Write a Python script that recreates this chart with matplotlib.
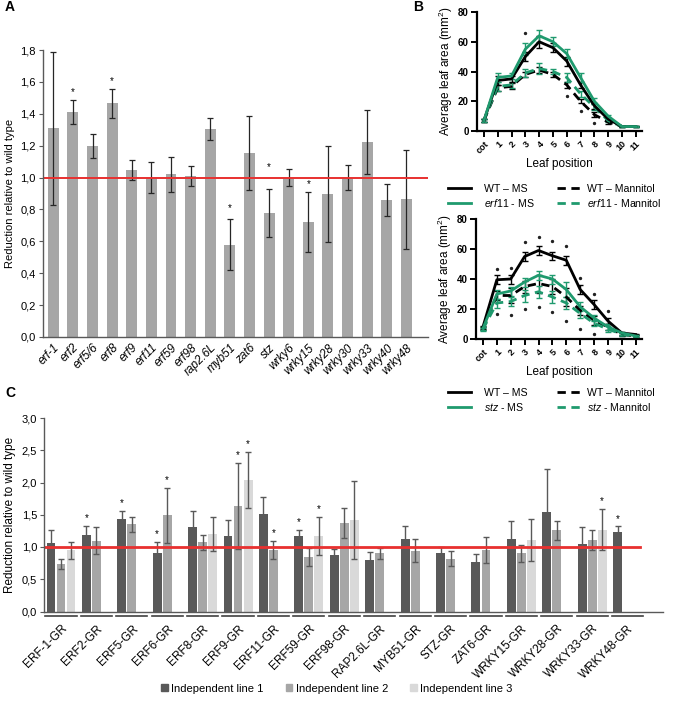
import numpy as np
import matplotlib
matplotlib.use("Agg")
import matplotlib.pyplot as plt
from matplotlib.lines import Line2D
from matplotlib.patches import Patch

plt.rcParams['font.family'] = ['Liberation Sans', 'DejaVu Sans']
plt.rcParams['mathtext.fontset'] = 'custom'
plt.rcParams['mathtext.rm'] = 'Liberation Sans'
plt.rcParams['mathtext.it'] = 'Liberation Sans:italic'

W, H = 674, 701
RED = '#e8302f'
GREEN = '#1f9a6e'

# ---- panel A: mutant lines ----
a_genes = ['erf-1', 'erf2', 'erf5/6', 'erf8', 'erf9', 'erf11', 'erf59', 'erf98', 'rap2.6L',
           'myb51', 'zat6', 'stz', 'wrky6', 'wrky15', 'wrky28', 'wrky30', 'wrky33', 'wrky40', 'wrky48']
a_mean = [1.31, 1.41, 1.20, 1.465, 1.045, 1.0, 1.02, 1.01, 1.305,
          0.58, 1.155, 0.78, 1.0, 0.72, 0.895, 1.0, 1.225, 0.86, 0.865]
a_err = [0.48, 0.075, 0.075, 0.09, 0.063, 0.10, 0.11, 0.064, 0.07,
         0.16, 0.23, 0.15, 0.056, 0.19, 0.30, 0.08, 0.20, 0.10, 0.31]
a_sig = [1, 3, 9, 11, 13]
a_star_y = [1.535, 1.605, 0.81, 1.065, 0.96]

# ---- panel B: leaf area per leaf position ----
leaf_pos = ['cot', '1', '2', '3', '4', '5', '6', '7', '8', '9', '10', '11']

wt_ms_1 = [7, 34, 35, 50, 60, 56, 47, 31, 17, 8, 3, 3]
wt_ms_1_err = [1, 3, 2, 3, 4, 3, 3, 2, 2, 1, 0.5, 0.5]
erf11_ms = [7, 36, 37, 55, 64, 60, 52, 36, 20, 10, 3, 3]
erf11_ms_err = [1, 3, 2, 4, 4, 3, 3, 3, 2, 1, 0.5, 0.5]
wt_man_1 = [7, 29, 30, 38, 41, 38, 31, 20, 11, 6, 3, 3]
wt_man_1_err = [1, 2, 2, 2, 2, 2, 2, 1.5, 1.5, 1, 0.5, 0.5]
erf11_man = [7, 30, 31, 39, 42, 40, 36, 25, 16, 7, 3, 3]
erf11_man_err = [1, 3, 2, 3, 4, 2, 3, 2, 2, 1, 0.5, 0.5]
erf11_star_x = [3, 6, 7, 8]
erf11_star_y = [66, 23.5, 13.5, 5.4]

wt_ms_2 = [8, 39.5, 40, 55, 59, 55.5, 52.5, 33, 23, 12, 4, 3]
wt_ms_2_err = [1, 3, 3, 3, 3, 2.5, 3, 3, 3, 2, 1, 0.5]
stz_ms = [7, 30, 32, 38, 42.5, 40, 33, 21.5, 14, 8, 4, 2]
stz_ms_err = [1, 3, 3, 3, 3, 3, 5, 3, 2, 2, 1, 0.5]
wt_man_2 = [7, 29, 29, 35, 37, 35, 28, 19, 12.5, 8, 3, 2]
wt_man_2_err = [1, 3, 5, 4, 6, 5, 6, 3, 3, 2, 1, 0.5]
stz_man = [6.5, 24, 25, 29, 31.5, 28, 24, 17, 10.5, 6.5, 3.3, 1.3]
stz_man_err = [1, 3, 3, 4, 4, 4, 4, 3, 2, 2, 1, 0.5]
stz_star_up_x = [1, 2, 3, 4, 5, 6, 7, 8, 9]
stz_star_up_y = [47, 47.6, 64.4, 67.7, 65.5, 62, 40.4, 29.8, 18.7]
stz_star_dn_x = [1, 2, 3, 4, 5, 6, 7, 8]
stz_star_dn_y = [16.4, 16, 19.8, 21.6, 18.2, 12.2, 6.4, 3.1]

# ---- panel C: GR lines ----
c_lines = ['ERF-1-GR', 'ERF2-GR', 'ERF5-GR', 'ERF6-GR', 'ERF8-GR', 'ERF9-GR', 'ERF11-GR', 'ERF59-GR',
           'ERF98-GR', 'RAP2.6L-GR', 'MYB51-GR', 'STZ-GR', 'ZAT6-GR', 'WRKY15-GR', 'WRKY28-GR',
           'WRKY33-GR', 'WRKY48-GR']
nan = np.nan
line1 = [1.06, 1.18, 1.43, 0.90, 1.31, 1.165, 1.51, 1.17, 0.88, 0.80, 1.13, 0.90, 0.76, 1.13, 1.54, 1.05, 1.23]
line1_err = [0.20, 0.15, 0.13, 0.18, 0.25, 0.26, 0.26, 0.10, 0.09, 0.12, 0.19, 0.10, 0.13, 0.28, 0.67, 0.26, 0.09]
line2 = [0.74, 1.10, 1.35, 1.49, 1.07, 1.635, 0.96, 0.85, 1.377, 0.90, 0.94, 0.82, 0.95, 0.90, 1.26, 1.11, nan]
line2_err = [0.08, 0.21, 0.11, 0.43, 0.12, 0.67, 0.14, 0.14, 0.23, 0.08, 0.18, 0.12, 0.20, 0.13, 0.15, 0.16, nan]
line3 = [0.95, nan, nan, nan, 1.20, 2.04, nan, 1.17, 1.42, nan, nan, nan, nan, 1.11, nan, 1.27, nan]
line3_err = [0.13, nan, nan, nan, 0.26, 0.44, nan, 0.30, 0.60, nan, nan, nan, nan, 0.32, nan, 0.32, nan]
line1_sig = [1, 2, 3, 7, 16]
line2_sig = [3, 5, 6]
line3_sig = [5, 7, 15]


def rect(left, top, right, bottom):
    return [left / W, 1 - bottom / H, (right - left) / W, (bottom - top) / H]


def comma(v):
    return f'{v:.1f}'.replace('.', ',')


def excel_axes(ax, yticks):
    for s in ['top', 'right']:
        ax.spines[s].set_visible(False)
    for s in ['left', 'bottom']:
        ax.spines[s].set_color('#595959')
        ax.spines[s].set_linewidth(1.0)
    ax.set_yticks(yticks)
    ax.set_yticklabels([comma(v) for v in yticks], fontsize=8)
    ax.tick_params(axis='y', length=3, color='#595959', pad=2)
    ax.tick_params(axis='x', length=0)


fig = plt.figure(figsize=(W / 100, H / 100), dpi=100)

# A
ax_a = fig.add_axes(rect(42.7, 50, 428, 337))
xa = np.arange(len(a_genes))
ax_a.bar(xa, a_mean, width=0.56, color='#a6a6a6', yerr=a_err,
         error_kw=dict(ecolor='#262626', elinewidth=0.9, capsize=2.5, capthick=0.9))
ax_a.axhline(1.0, color=RED, lw=1.4)
for i, sy in zip(a_sig, a_star_y):
    ax_a.text(xa[i], sy, '*', ha='center', va='center', fontsize=7)
ax_a.set_xlim(-0.54, 19.1)
ax_a.set_ylim(0, 1.8)
excel_axes(ax_a, np.arange(0, 1.81, 0.2))
ax_a.set_xticks(xa)
ax_a.set_xticklabels(a_genes, rotation=45, ha='right', rotation_mode='anchor', style='italic', fontsize=8.5)
ax_a.set_ylabel('Reduction relative to wild type', fontsize=8)


# B
def leaf_panel(ax, series, stars):
    x = np.arange(len(leaf_pos))
    for vals, errs, col, ls in series:
        ax.errorbar(x, vals, yerr=errs, color=col, ls=ls, lw=2, elinewidth=1, capsize=2.5, capthick=1)
    for sx, sy in stars:
        ax.scatter(sx, sy, s=2, color='#222222', zorder=5)
    ax.set_xlim(-0.5, 11.45)
    ax.set_ylim(0, 80)
    ax.set_yticks([0, 20, 40, 60, 80])
    ax.set_xticks(x)
    ax.set_xticklabels(leaf_pos, rotation=45, ha='right', rotation_mode='anchor', fontsize=6.5, fontweight='bold')
    for lab in ax.get_yticklabels():
        lab.set_fontweight('bold')
        lab.set_fontsize(7)
    for s in ['top', 'right']:
        ax.spines[s].set_visible(False)
    for s in ['left', 'bottom']:
        ax.spines[s].set_linewidth(1.6)
    ax.tick_params(width=1.4, length=4, pad=2)
    ax.set_ylabel('Average leaf area (mm$^2$)', fontsize=8.5, labelpad=2)
    ax.set_xlabel('Leaf position', fontsize=8.5, labelpad=2)


dash = (0, (3, 2))
ax_b1 = fig.add_axes(rect(477, 12, 642, 131))
leaf_panel(ax_b1, [(wt_man_1, wt_man_1_err, 'black', dash),
                   (erf11_man, erf11_man_err, GREEN, dash),
                   (wt_ms_1, wt_ms_1_err, 'black', '-'),
                   (erf11_ms, erf11_ms_err, GREEN, '-')],
           list(zip(erf11_star_x, erf11_star_y)))

ax_b2 = fig.add_axes(rect(476, 219, 642, 339))
leaf_panel(ax_b2, [(wt_man_2, wt_man_2_err, 'black', dash),
                   (stz_man, stz_man_err, GREEN, dash),
                   (wt_ms_2, wt_ms_2_err, 'black', '-'),
                   (stz_ms, stz_ms_err, GREEN, '-')],
           list(zip(stz_star_up_x, stz_star_up_y)) + list(zip(stz_star_dn_x, stz_star_dn_y)))


def leaf_legend(mutant, top):
    cols = [([Line2D([], [], color='black', lw=2), Line2D([], [], color=GREEN, lw=2)],
             ['WT – MS', '$\\mathit{%s}$ - MS' % mutant], 448, 1.2),
            ([Line2D([], [], color='black', lw=2, ls=dash), Line2D([], [], color=GREEN, lw=2, ls=dash)],
             ['WT – Mannitol', '$\\mathit{%s}$ - Mannitol' % mutant], 557, 0.6)]
    for handles, labels, left, pad in cols:
        fig.legend(handles, labels, loc='upper left', bbox_to_anchor=(left / W, 1 - top / H),
                   frameon=False, fontsize=7.6, handlelength=2.2, handletextpad=pad,
                   labelspacing=0.3, borderpad=0, borderaxespad=0)


leaf_legend('erf11', 184)
leaf_legend('stz', 388)

# C
ax_c = fig.add_axes(rect(44, 418, 663, 611.5))
xc = np.arange(len(c_lines))
step = 0.283
colors = ['#595959', '#a6a6a6', '#d9d9d9']
ekw = dict(ecolor='#595959', elinewidth=1.0, capsize=2.5, capthick=1.0)
for k, (vals, errs, sig) in enumerate([(line1, line1_err, line1_sig),
                                       (line2, line2_err, line2_sig),
                                       (line3, line3_err, line3_sig)]):
    pos = xc + (k - 1) * step
    ax_c.bar(pos, vals, width=0.25, color=colors[k], yerr=errs, error_kw=ekw)
    for i in sig:
        ax_c.text(pos[i], vals[i] + errs[i] + 0.04, '*', ha='center', va='bottom', fontsize=7)
ax_c.plot([-0.48, 16.36], [1, 1], color=RED, lw=2)
for i in xc:
    ax_c.plot([i - 0.44, i + 0.44], [-0.07, -0.07], color='#404040', lw=1.2, clip_on=False)
ax_c.set_xlim(-0.48, 17.0)
ax_c.set_ylim(0, 3.0)
excel_axes(ax_c, np.arange(0, 3.01, 0.5))
ax_c.set_xticks(xc)
ax_c.set_xticklabels(c_lines, rotation=45, ha='right', rotation_mode='anchor', fontsize=8.5)
ax_c.tick_params(axis='x', pad=8)
ax_c.set_ylabel('Reduction relative to wild type', fontsize=8.5)

fig.legend([Patch(color=c) for c in colors],
           ['Independent line 1', 'Independent line 2', 'Independent line 3'],
           loc='lower center', bbox_to_anchor=(0.5, -0.004), ncol=3, frameon=False, fontsize=8,
           handlelength=0.6, handleheight=0.6, handletextpad=0.3, columnspacing=2.0)

fig.text(5 / W, 1 - 7 / H, 'A', fontsize=10, fontweight='bold', va='center', ha='left')
fig.text(413 / W, 1 - 7 / H, 'B', fontsize=10, fontweight='bold', va='center', ha='left')
fig.text(5 / W, 1 - 393 / H, 'C', fontsize=10, fontweight='bold', va='center', ha='left')

fig.savefig('out.png', dpi=100)
